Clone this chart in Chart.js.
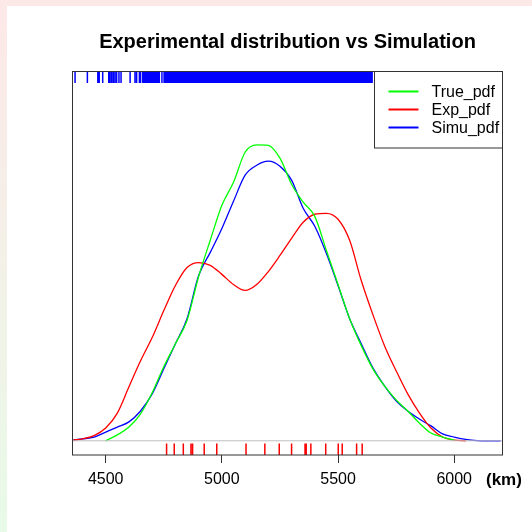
<!DOCTYPE html>
<html>
<head>
<meta charset="utf-8">
<title>Experimental distribution vs Simulation</title>
<script src="https://cdn.jsdelivr.net/npm/chart.js"></script>
<style>
    html, body { margin: 0; padding: 0; }
    body {
        width: 532px; height: 532px; overflow: hidden; position: relative;
        background: linear-gradient(to bottom, #fde8e8, #e8fae8);
    }
    #plotFrame { position: absolute; left: 7px; top: 6px; width: 525px; height: 526px; background: #fff; }
</style>
</head>
<body>
<div id="plotFrame"><canvas id="densityChart" width="525" height="526"></canvas></div>
<script>
// Grid of x positions (km) where the densities were read
const xGrid = [4360, 4400, 4450, 4500, 4550, 4600, 4650, 4700, 4750, 4800, 4850, 4900, 4950,
    5000, 5050, 5100, 5150, 5200, 5250, 5300, 5350, 5400, 5450, 5500, 5550, 5600, 5650,
    5700, 5750, 5800, 5850, 5900, 5950, 6000, 6050, 6100, 6150, 6200];

// Densities (x 1e-3)
const truePdf = [null, null, null, 0.000, 0.025, 0.058, 0.114, 0.203, 0.313, 0.410, 0.508, 0.694, 0.847,
    0.995, 1.092, 1.219, 1.250, 1.248, 1.194, 1.084, 1.008, 0.948, 0.804, 0.660, 0.516, 0.402, 0.304,
    0.232, 0.173, 0.126, 0.075, 0.033, 0.016, 0.003, null, null, null, null];
const expPdf = [0.003, 0.008, 0.022, 0.054, 0.117, 0.228, 0.338, 0.436, 0.550, 0.656, 0.732, 0.753, 0.741,
    0.703, 0.660, 0.635, 0.660, 0.715, 0.783, 0.855, 0.923, 0.957, 0.961, 0.936, 0.847, 0.677, 0.533,
    0.402, 0.296, 0.198, 0.118, 0.054, 0.016, 0.003, 0.000, null, null, null];
const simuPdf = [0.003, 0.008, 0.016, 0.037, 0.058, 0.080, 0.126, 0.198, 0.304, 0.410, 0.516, 0.698, 0.796,
    0.897, 1.012, 1.122, 1.164, 1.181, 1.160, 1.101, 0.982, 0.906, 0.791, 0.656, 0.516, 0.410, 0.308,
    0.232, 0.169, 0.126, 0.092, 0.063, 0.029, 0.016, 0.006, 0.001, 0.000, 0.000];

// Rug samples (km)
const expSample = [4762, 4795, 4834, 4867, 4874, 4924, 4978, 5104, 5185, 5247, 5300, 5358, 5363,
    5383, 5447, 5501, 5518, 5580, 5604];
const simuSample = [4368, 4421, 4466, 4472, 4487, 4513, 4519, 4526, 4533, 4540, 4547, 4557, 4566,
    4605, 4626, 4633, 4645, 4649, 4742];
// ranges where the simulated rug is solid
const simuDense = [[4655, 4734], [4748, 5650]];

const xTicks = [4500, 5000, 5500, 6000];
const legendLabels = ['True_pdf', 'Exp_pdf', 'Simu_pdf'];
const legendColors = ['#00ff00', '#ff0000', '#0000ff'];

// axis limits (R style 4% extension)
const X_MIN = 4357, X_MAX = 6208;
const Y_MIN = -0.06, Y_MAX = 1.56;
const RUG_H = 0.0486;

const FONT = '"Liberation Sans", Arial, Helvetica, sans-serif';

let densityChart;

function curve(values) {
    return xGrid.map((x, i) => ({ x: x, y: values[i] }));
}

// vertical ticks separated by gaps
function rugPoints(values, y0, y1) {
    const pts = [];
    values.forEach(v => {
        pts.push({ x: v, y: y0 }, { x: v, y: y1 }, { x: v, y: null });
    });
    return pts;
}

// pixel height of the rug, taken from the y scale
function rugPixelHeight(context) {
    const s = context.chart.scales.y;
    if (!s) return 1;
    return Math.abs(s.getPixelForValue(Y_MAX - RUG_H) - s.getPixelForValue(Y_MAX));
}

const framePlugin = {
    id: 'frame',
    afterDatasetsDraw(chart) {
        const ctx = chart.ctx;
        const a = chart.chartArea;
        ctx.save();

        // box around the plot
        ctx.strokeStyle = '#333';
        ctx.lineWidth = 1;
        ctx.strokeRect(a.left, a.top, a.right - a.left, a.bottom - a.top);

        // legend top right
        const lw = 128, lh = 76.5;
        const lx = a.right - lw, ly = a.top;
        ctx.fillStyle = '#fff';
        ctx.fillRect(lx, ly, lw, lh);
        ctx.strokeRect(lx, ly, lw, lh);
        ctx.font = '16px ' + FONT;
        ctx.textBaseline = 'middle';
        ctx.textAlign = 'left';
        legendLabels.forEach((label, i) => {
            const y = ly + 20 + i * 18;
            ctx.strokeStyle = legendColors[i];
            ctx.lineWidth = 2;
            ctx.beginPath();
            ctx.moveTo(lx + 14, y);
            ctx.lineTo(lx + 44, y);
            ctx.stroke();
            ctx.fillStyle = '#000';
            ctx.fillText(label, lx + 57, y + 1);
        });
        ctx.restore();
    },
    afterDraw(chart) {
        const ctx = chart.ctx;
        const a = chart.chartArea;
        ctx.save();
        ctx.fillStyle = '#000';
        ctx.textBaseline = 'alphabetic';
        ctx.textAlign = 'center';
        ctx.font = 'bold 20px ' + FONT;
        ctx.fillText('Experimental distribution vs Simulation', (a.left + a.right) / 2, 42);
        ctx.textAlign = 'left';
        ctx.font = 'bold 17px ' + FONT;
        ctx.fillText('(km)', 479, 479);
        ctx.restore();
    }
};

function initializeChart() {
    const ctx = document.getElementById('densityChart').getContext('2d');

    const lineStyle = {
        pointRadius: 0,
        borderWidth: 1.3,
        fill: false,
        cubicInterpolationMode: 'monotone',
        spanGaps: false
    };

    const datasets = [
        {
            label: 'zero',
            data: [{ x: X_MIN, y: 0 }, { x: X_MAX, y: 0 }],
            borderColor: '#bebebe',
            borderWidth: 1,
            pointRadius: 0
        },
        Object.assign({ label: legendLabels[0], data: curve(truePdf), borderColor: legendColors[0] }, lineStyle),
        Object.assign({ label: legendLabels[1], data: curve(expPdf), borderColor: legendColors[1] }, lineStyle),
        Object.assign({ label: legendLabels[2], data: curve(simuPdf), borderColor: legendColors[2] }, lineStyle),
        {
            label: 'exp rug',
            data: rugPoints(expSample, Y_MIN, Y_MIN + RUG_H),
            borderColor: '#ff0000',
            borderWidth: 1.5,
            pointRadius: 0,
            spanGaps: false
        },
        {
            label: 'simu rug',
            data: rugPoints(simuSample, Y_MAX, Y_MAX - RUG_H),
            borderColor: '#0000ff',
            borderWidth: 1.5,
            pointRadius: 0,
            spanGaps: false
        }
    ];

    // solid parts of the simulation rug: a thick stroke as tall as the rug
    simuDense.forEach((r, i) => {
        datasets.push({
            label: 'simu band ' + i,
            data: [{ x: r[0], y: Y_MAX - RUG_H / 2 }, { x: r[1], y: Y_MAX - RUG_H / 2 }],
            borderWidth: rugPixelHeight,
            borderColor: '#0000ff',
            borderCapStyle: 'butt',
            pointRadius: 0,
            fill: false
        });
    });

    densityChart = new Chart(ctx, {
        type: 'line',
        data: { datasets: datasets },
        options: {
            responsive: false,
            animation: false,
            layout: { padding: { left: 65.5, right: 29.5, top: 65.5, bottom: 35.8 } },
            plugins: {
                legend: { display: false },
                tooltip: { enabled: false },
                title: { display: false }
            },
            scales: {
                x: {
                    type: 'linear',
                    min: X_MIN,
                    max: X_MAX,
                    afterBuildTicks: scale => {
                        scale.ticks = xTicks.map(v => ({ value: v }));
                    },
                    ticks: {
                        color: '#000',
                        padding: 7,
                        maxRotation: 0,
                        font: { family: FONT, size: 16 },
                        callback: v => String(v)
                    },
                    grid: {
                        drawOnChartArea: false,
                        drawTicks: true,
                        tickLength: 8,
                        color: '#333',
                        lineWidth: 1
                    },
                    border: { display: false }
                },
                y: {
                    display: false,
                    min: Y_MIN,
                    max: Y_MAX
                }
            }
        },
        plugins: [framePlugin]
    });
}

window.onload = initializeChart;
</script>
</body>
</html>
